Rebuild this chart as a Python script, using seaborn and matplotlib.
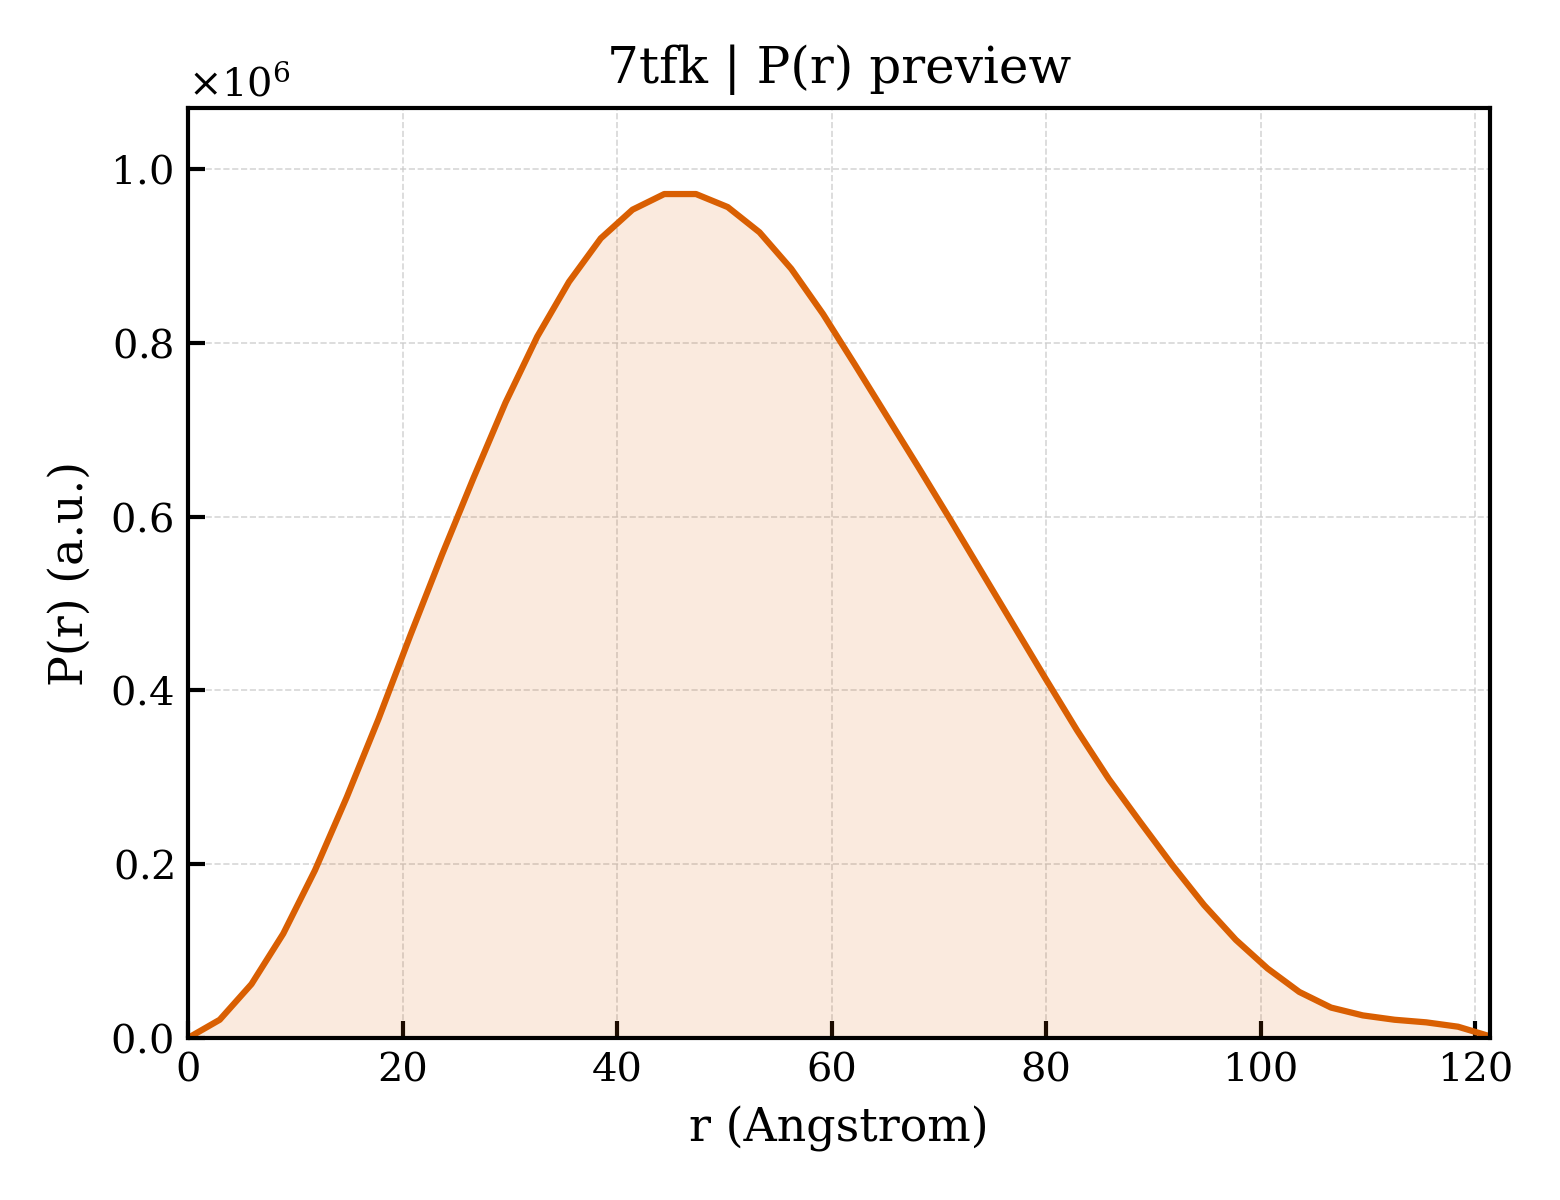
import matplotlib
matplotlib.use("Agg")
import matplotlib.pyplot as plt
import seaborn as sns
import pandas as pd

# ---- data ----
r_angstrom = [0.0, 2.96, 5.92, 8.88, 11.84, 14.8, 17.76, 20.72, 23.68, 26.64,
              29.6, 32.56, 35.52, 38.48, 41.44, 44.4, 47.36, 50.32, 53.28, 56.24,
              59.2, 62.16, 65.12, 68.08, 71.04, 74.0, 76.96, 79.92, 82.88, 85.84,
              88.8, 91.76, 94.72, 97.68, 100.64, 103.6, 106.56, 109.52, 112.48,
              115.44, 118.4, 121.36]
p_r_millions = [0.0, 0.021, 0.062, 0.120, 0.193, 0.277, 0.367, 0.463, 0.556, 0.645,
                0.731, 0.807, 0.870, 0.920, 0.953, 0.971, 0.971, 0.956, 0.927, 0.885,
                0.833, 0.775, 0.716, 0.657, 0.597, 0.536, 0.475, 0.414, 0.354, 0.298,
                0.248, 0.199, 0.153, 0.113, 0.080, 0.053, 0.035, 0.026, 0.021,
                0.018, 0.013, 0.002]
p_r = [v * 1e6 for v in p_r_millions]

title = "7tfk | P(r) preview"
x_label = "r (Angstrom)"
y_label = "P(r) (a.u.)"
line_color = "#d95f02"

df = pd.DataFrame({"r": r_angstrom, "P": p_r})

sns.set_style("ticks")
plt.rcParams["font.family"] = ["DejaVu Serif"]
plt.rcParams["mathtext.fontset"] = "dejavuserif"
plt.rcParams["axes.linewidth"] = 1.0
plt.rcParams["xtick.direction"] = "in"
plt.rcParams["ytick.direction"] = "in"
plt.rcParams["text.color"] = "black"
plt.rcParams["axes.labelcolor"] = "black"
plt.rcParams["xtick.color"] = "black"
plt.rcParams["ytick.color"] = "black"
plt.rcParams["axes.edgecolor"] = "black"

fig = plt.figure(figsize=(5.2, 4.0), dpi=300)
ax = fig.add_axes([0.1205, 0.135, 0.8345, 0.775])

ax.fill_between(df["r"], df["P"], 0, color=line_color, alpha=0.13, linewidth=0)
sns.lineplot(data=df, x="r", y="P", ax=ax, color=line_color, linewidth=1.5)

ax.set_xlim(0, r_angstrom[-1])
ax.set_ylim(0, 1.07e6)
ax.set_xticks([0, 20, 40, 60, 80, 100, 120])
ax.set_yticks([0, 0.2e6, 0.4e6, 0.6e6, 0.8e6, 1.0e6])
ax.ticklabel_format(style="sci", axis="y", scilimits=(0, 0), useMathText=True)

ax.grid(True, linestyle="--", linewidth=0.4, color="#cccccc", alpha=0.8)
ax.tick_params(axis="both", which="major", labelsize=9.6, length=4, width=1.0,
               direction="in", top=False, right=False, colors="black")
ax.yaxis.get_offset_text().set_fontsize(9.6)
ax.yaxis.get_offset_text().set_color("black")
for s in ax.spines.values():
    s.set_visible(True)
    s.set_linewidth(1.0)
    s.set_color("black")

ax.set_title(title, fontsize=12, color="black")
ax.set_xlabel(x_label, fontsize=11, color="black")
ax.set_ylabel(y_label, fontsize=11, color="black")

fig.savefig("out.png", dpi=300)
